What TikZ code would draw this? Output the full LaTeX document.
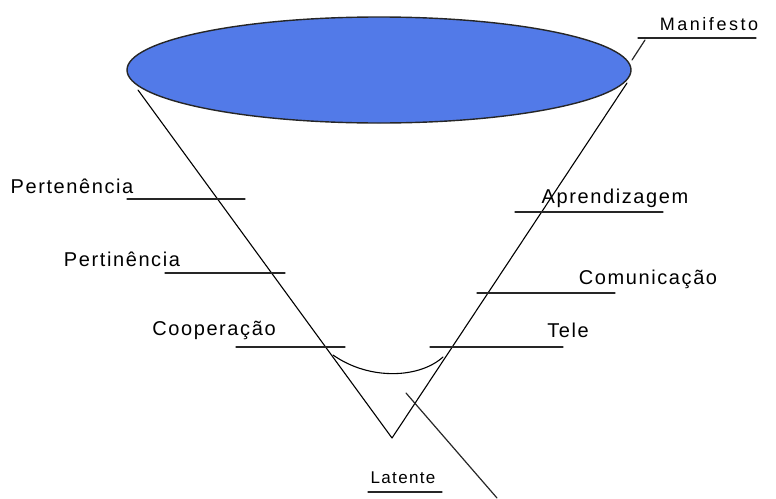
\documentclass[tikz,border=0pt]{standalone}
\usepackage{fontspec}
\setmainfont{Liberation Sans}
\newfontfamily\lblfont[LetterSpace=8]{Liberation Sans}
\newfontfamily\widefont[LetterSpace=14]{Liberation Sans}
\definecolor{topblue}{RGB}{82,122,232}
\begin{document}
\begin{tikzpicture}[x=1pt, y=-1pt, line cap=round, line join=round,
	lbl/.style={inner sep=0pt, font=\lblfont\fontsize{20}{22}\selectfont},
	smalllbl/.style={inner sep=0pt, font=\lblfont\fontsize{17}{20}\selectfont},
	mark line/.style={line width=1.2pt, black!85}]
	\useasboundingbox (0,0) rectangle (776,498);
	% top of the cone
	\draw[fill=topblue, draw=black!85, line width=1.4pt] (379,70) coordinate (c) ellipse [x radius=252, y radius=53];
	\draw[line width=1.1pt] (138,90) coordinate (l) -- (392,438) coordinate (apex) -- (627,83) coordinate (r);
	\draw[line width=1.1pt] (333,355) coordinate (arcl) .. controls (370,381) and (420,378) .. (443,357) coordinate (arcr);
	% levels
	\foreach \n/\t/\tx/\ty/\a/\b/\ly in {pertenencia/Pertenência/72/186/127/245/199,
			pertinencia/Pertinência/122/259/165/285/273,
			cooperacao/Cooperação/214/330/236/345/347,
			aprendizagem/Aprendizagem/615/198/515/663/212,
			comunicacao/Comunicação/648/279/477/615/293,
			tele/Tele/568/330/430/563/347} {
		\node[lbl] (\n) at (\tx,\ty) {\t};
		\draw[mark line] (\a,\ly) coordinate (\n-a) -- (\b,\ly) coordinate (\n-b);
	}
	% manifesto / latente
	\node[smalllbl, font=\widefont\fontsize{18}{20}\selectfont] (man) at (709,24) {Manifesto};
	\draw[mark line] (638,38) coordinate (man-a) -- (756,38) coordinate (man-b);
	\draw[mark line] (645,40) coordinate (man-c) -- (632,60) coordinate (man-d);
	\node[smalllbl] (lat) at (403,478) {Latente};
	\draw[mark line] (368,492) coordinate (lat-a) -- (442,492) coordinate (lat-b);
	\draw[mark line] (406,393) coordinate (lat-c) -- (497,498) coordinate (lat-d);
\end{tikzpicture}
\end{document}
